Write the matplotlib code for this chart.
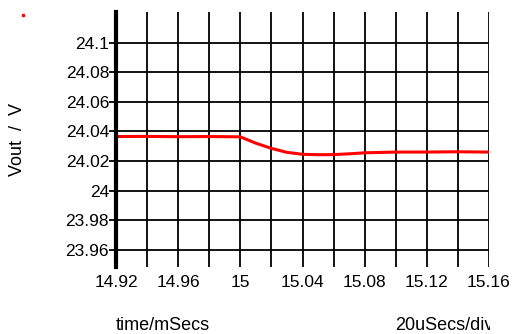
import matplotlib
matplotlib.use("Agg")
import matplotlib.pyplot as plt
from matplotlib.transforms import Bbox

plt.rcParams['font.family'] = ['Liberation Sans', 'DejaVu Sans']

# waveform
time_ms = [14.92, 14.94, 14.96, 14.98, 15.0, 15.01, 15.02, 15.03, 15.04,
           15.05, 15.06, 15.07, 15.08, 15.10, 15.12, 15.14, 15.16]
vout = [24.0365, 24.0366, 24.0364, 24.0365, 24.0363, 24.0320, 24.0285, 24.0258,
        24.0245, 24.0242, 24.0243, 24.0248, 24.0255, 24.0260, 24.0260, 24.0262,
        24.0260]

xticks = [14.92, 14.96, 15.0, 15.04, 15.08, 15.12, 15.16]
xtick_labels = ['14.92', '14.96', '15', '15.04', '15.08', '15.12', '15.16']
yticks = [23.96, 23.98, 24.0, 24.02, 24.04, 24.06, 24.08, 24.1]
ytick_labels = ['23.96', '23.98', '24', '24.02', '24.04', '24.06', '24.08', '24.1']
xgrid = [14.92 + 0.02 * i for i in range(13)]

fig = plt.figure(figsize=(5.14, 3.34), dpi=100)
ax = fig.add_axes([116 / 514, 1 - 267 / 334, (489 - 116) / 514, (267 - 12) / 334])

for x in xgrid:
    ax.axvline(x, color='black', lw=1.3, zorder=1)
for y in yticks:
    ax.axhline(y, color='black', lw=1.3, zorder=1)

ax.plot(time_ms, vout, color='red', lw=2.2, zorder=3)

ax.set_xlim(14.92, 15.16)
ax.set_ylim(23.9483, 24.1207)
ax.set_xticks(xticks)
ax.set_xticklabels(xtick_labels)
ax.set_yticks(yticks)
ax.set_yticklabels(ytick_labels)
ax.tick_params(axis='x', length=0, pad=6, labelsize=12.5)
ax.tick_params(axis='y', length=5, width=1.3, pad=0, labelsize=12.5)
for s in ['top', 'right', 'bottom']:
    ax.spines[s].set_visible(False)
ax.spines['left'].set_linewidth(3)
ax.spines['left'].set_zorder(4)

fig.text(17 / 514, 1 - 139 / 334, 'Vout  /  V', rotation=90, ha='center', va='center', fontsize=13)
fig.text(163 / 514, 1 - 325 / 334, 'time/mSecs', ha='center', va='center', fontsize=13)
t = fig.text(395 / 514, 1 - 325 / 334, '20uSecs/div', ha='left', va='center', fontsize=13)
t.set_clip_box(Bbox.from_extents(0, 0, 490, 334))
t.set_clip_on(True)

fig.add_artist(plt.Line2D([23 / 514], [1 - 15 / 334], transform=fig.transFigure,
                          marker='s', ms=2, color='red', lw=0))

fig.savefig('out.png', dpi=100)
